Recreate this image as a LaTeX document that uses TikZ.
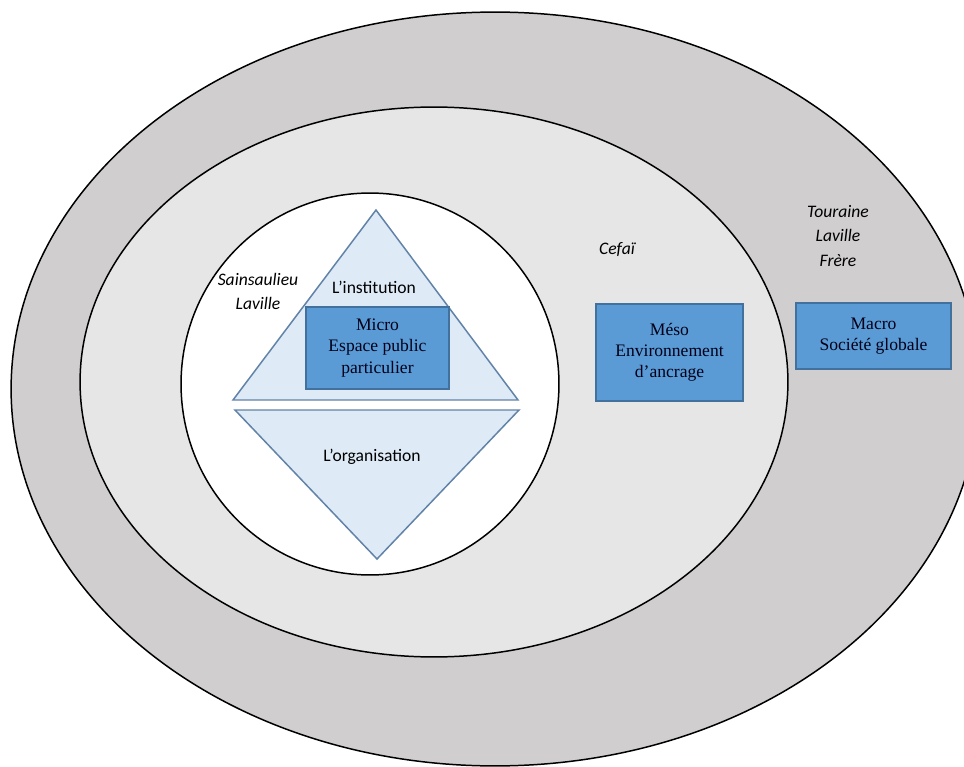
\documentclass[tikz,border=0pt]{standalone}
\usepackage{fontspec}
\setmainfont{Liberation Serif}
\newfontfamily\calibri{Carlito}
\usetikzlibrary{positioning}
\definecolor{ringdark}{HTML}{D0CECE}
\definecolor{ringlight}{HTML}{E7E6E6}
\definecolor{trifill}{HTML}{DEEBF7}
\definecolor{triline}{HTML}{6283A8}
\definecolor{boxfill}{HTML}{5B9BD5}
\definecolor{boxline}{HTML}{41719C}
\newcommand{\lvl}[5]{\node[level,minimum width=#3cm,minimum height=#4cm] (#1) at (#2) {#5};}

\begin{document}
\begin{tikzpicture}[x=0.02cm,y=-0.02cm,
  ring/.style={draw=black,line width=0.85pt},
  tri/.style={draw=triline,fill=trifill,line width=0.85pt},
  level/.style={draw=boxline,fill=boxfill,line width=0.85pt,inner sep=0pt,align=center,
    text=black!90!blue,font=\fontsize{10}{12}\selectfont},
  author/.style={align=center,font=\calibri\itshape\fontsize{10}{13.7}\selectfont},
  part/.style={font=\calibri\fontsize{10}{12}\selectfont}]
  \useasboundingbox[fill=white] (0,0) rectangle (964,767);
  % rings
  \draw[ring,fill=ringdark] (495,389) ellipse [x radius=9.68cm,y radius=7.54cm];
  \draw[ring,fill=ringlight] (434,382) ellipse [x radius=7.08cm,y radius=5.50cm];
  \draw[ring,fill=white] (370,384) ellipse [x radius=3.78cm,y radius=3.82cm];
  % triangles
  \draw[tri] (376,210) -- (518,400) -- (233,400) -- cycle;
  \draw[tri] (235,410) -- (519,410) -- (377,559) -- cycle;
  \node[part] (inst) at (374,287) {L’institution};
  \node[part] (orga) at (372,457) {L’organisation};
  % levels
  \lvl{micro}{377.5,348}{2.86}{1.64}{Micro\\Espace public\\particulier}
  \lvl{meso}{669.5,352.5}{2.94}{1.94}{Méso\\Environnement\\d’ancrage}
  \lvl{macro}{873.5,336}{3.10}{1.32}{Macro\\Société globale}
  % authors
  \node[author] (sain) at (258,291) {Sainsaulieu\\Laville};
  \node[author] (cefai) at (617,250) {Cefaï};
  \node[author] (tour) at (838,236) {Touraine\\Laville\\Frère};
\end{tikzpicture}
\end{document}
